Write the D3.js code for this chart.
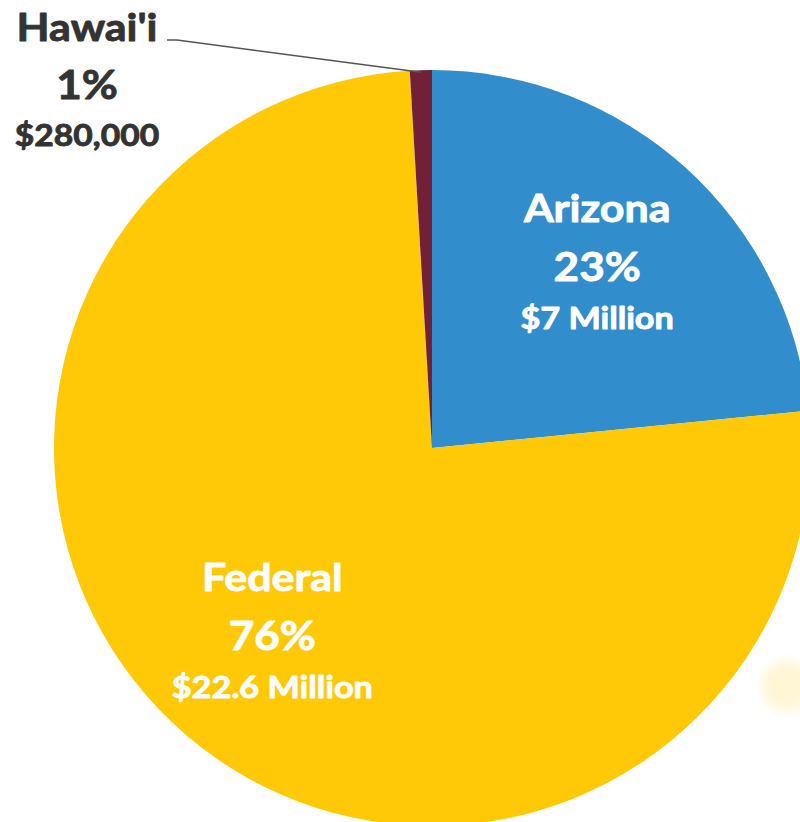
<!DOCTYPE html>
<html>
<head>
<meta charset="utf-8">
<script src="https://cdn.jsdelivr.net/npm/d3@7"></script>
<style>
  html, body { margin: 0; padding: 0; background: #fff; }
  svg { display: block; }
</style>
</head>
<body>
<script>
// ---- data ----
const categories = ["Arizona", "Federal", "Hawai'i"];
const values = [7.0, 22.6, 0.28];            // millions of dollars
const percentLabels = ["23%", "76%", "1%"];
const amountLabels = ["$7 Million", "$22.6 Million", "$280,000"];
const colors = ["#318DCB", "#FFC907", "#722038"];

const W = 800, H = 822;
const cx = 432, cy = 448, R = 378;

const svg = d3.select("body").append("svg").attr("width", W).attr("height", H);

// faint decorative glow (artifact in the original)
const defs = svg.append("defs");
defs.append("filter").attr("id", "blur").append("feGaussianBlur").attr("stdDeviation", 6);
svg.append("ellipse").attr("cx", 786).attr("cy", 686).attr("rx", 24).attr("ry", 26)
  .attr("fill", "#FFF3C8").attr("opacity", 0.75).attr("filter", "url(#blur)");

const data = categories.map((c, i) => ({ name: c, value: values[i], pct: percentLabels[i], amt: amountLabels[i], color: colors[i] }));

const pie = d3.pie().sort(null).value(d => d.value);
const arcs = pie(data);
const arc = d3.arc().innerRadius(0).outerRadius(R);
const labelArc = d3.arc().innerRadius(246).outerRadius(246);

const g = svg.append("g").attr("transform", `translate(${cx},${cy})`);
g.selectAll("path.slice").data(arcs).enter().append("path")
  .attr("class", "slice")
  .attr("d", arc)
  .attr("fill", d => d.data.color);

const font = "Lato, 'Open Sans', sans-serif";

function line(parent, y, size, sx, txt, col) {
  parent.append("text")
    .attr("transform", `translate(0,${y}) scale(${sx},1)`)
    .attr("font-size", size)
    .attr("stroke", col).attr("stroke-width", 0.9).attr("stroke-linejoin", "round")
    .text(txt);
}

// inside labels for large slices
arcs.filter(d => d.data.value > 1).forEach(d => {
  const [x, y] = labelArc.centroid(d);
  const t = g.append("g").attr("transform", `translate(${x},${y})`)
    .attr("fill", "#fff").attr("font-family", font).attr("font-weight", 700).attr("text-anchor", "middle");
  line(t, -44, 39, 1.1, d.data.name, "#fff");
  line(t, 15, 40, 1.1, d.data.pct, "#fff");
  line(t, 63, 30, 1.14, d.data.amt, "#fff");
});

// outside label for Hawai'i
arcs.filter(d => d.data.value <= 1).forEach(d => {
  const mid = (d.startAngle + d.endAngle) / 2;
  const px = Math.sin(mid) * (R - 2), py = -Math.cos(mid) * (R - 2);
  const lx = 167 - cx, ly = 40 - cy;
  g.append("path")
    .attr("d", `M${lx},${ly}L${lx + 10},${ly}L${px},${py}`)
    .attr("fill", "none").attr("stroke", "#555").attr("stroke-width", 1.5);
  const t = g.append("g").attr("transform", `translate(${87 - cx},${-cy})`)
    .attr("fill", "#333").attr("font-family", font).attr("font-weight", 700).attr("text-anchor", "middle");
  line(t, 41, 39, 1.1, d.data.name, "#333");
  line(t, 99, 40, 1.1, d.data.pct, "#333");
  line(t, 146, 30, 1.12, d.data.amt, "#333");
});
</script>
</body>
</html>
